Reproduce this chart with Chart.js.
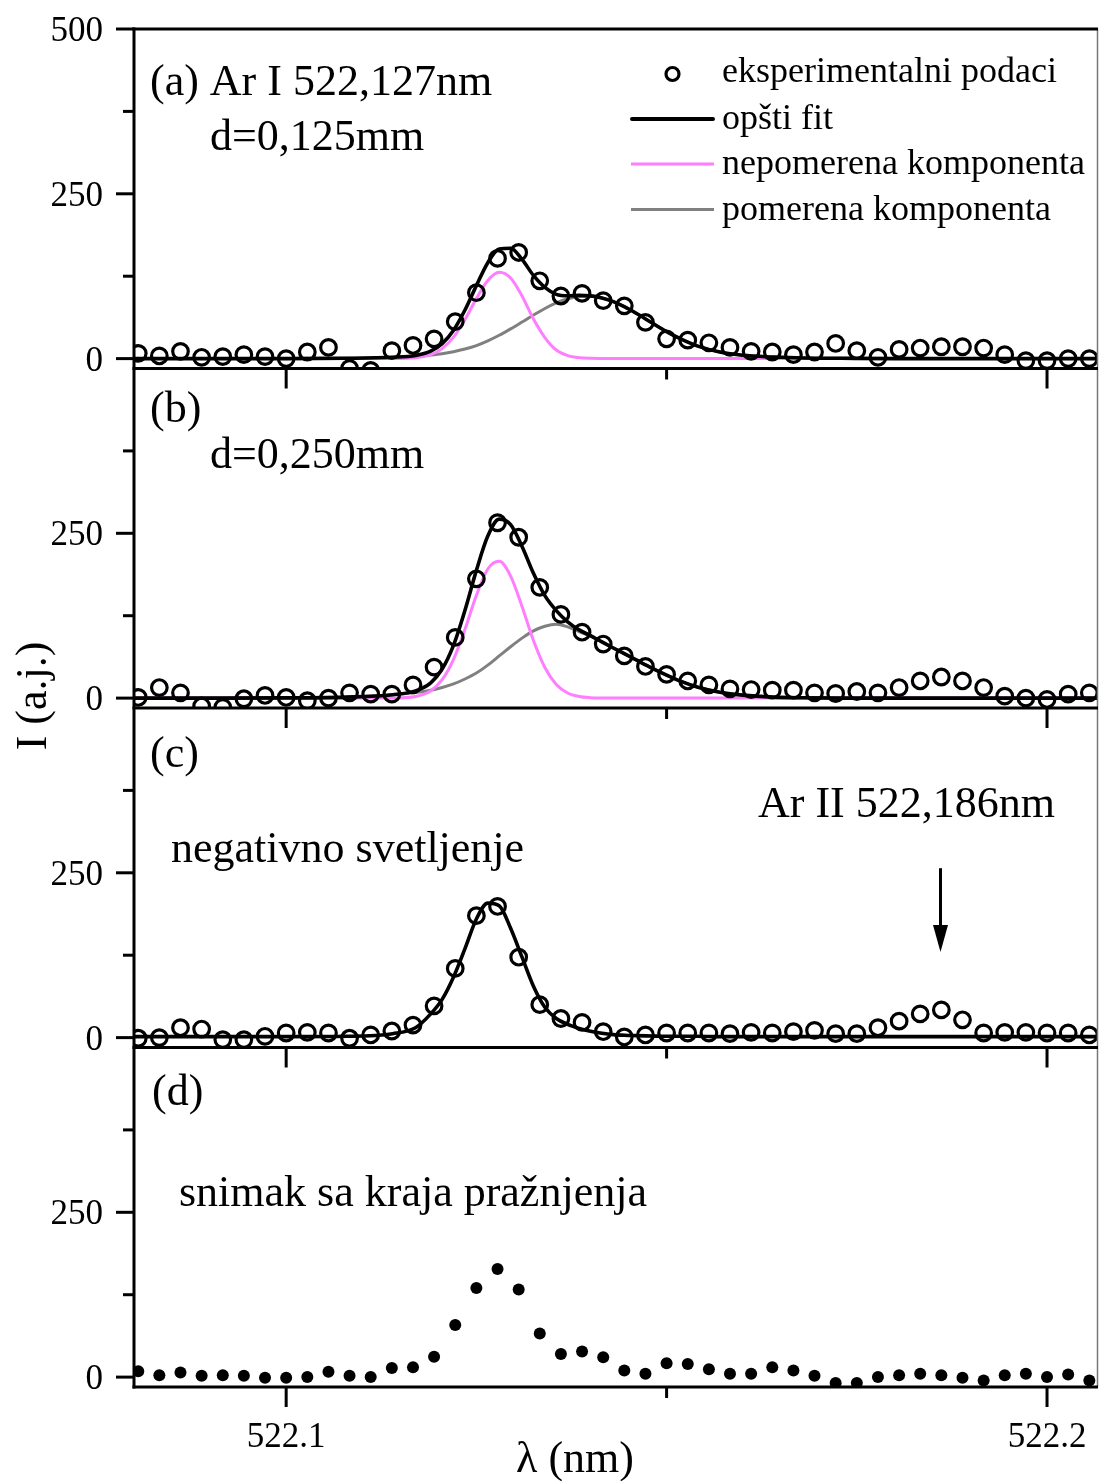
<!DOCTYPE html>
<html>
<head>
<meta charset="utf-8">
<title>Ar I 522,127nm</title>
<script src="https://cdn.jsdelivr.net/npm/chart.js@4.4.1/dist/chart.umd.min.js"></script>
<style>
  html, body { margin: 0; padding: 0; background: #fff; overflow: hidden; }
  #wrap { position: relative; width: 1099px; height: 1481px; }
  canvas { display: block; }
</style>
</head>
<body>
<div id="wrap"><canvas id="spectra" width="1099" height="1481"></canvas></div>
<script>
// measured points, wavelength in nm
const wavelength = [522.08056, 522.08333, 522.08611, 522.08889, 522.09167, 522.09444, 522.09722, 522.10000,
  522.10278, 522.10556, 522.10833, 522.11111, 522.11389, 522.11667, 522.11944, 522.12222, 522.12500, 522.12778,
  522.13056, 522.13333, 522.13611, 522.13889, 522.14167, 522.14444, 522.14722, 522.15000, 522.15278, 522.15556,
  522.15833, 522.16111, 522.16389, 522.16667, 522.16944, 522.17222, 522.17500, 522.17778, 522.18056, 522.18333,
  522.18611, 522.18889, 522.19167, 522.19444, 522.19722, 522.20000, 522.20278, 522.20556];

// (a) d=0,125mm
const expA = [8, 4, 11, 2, 3, 6, 3, 0, 10, 17, -15, -18, 12, 20, 30, 56, 100, 152, 161, 118, 95, 99, 88, 80,
  55, 30, 28, 24, 17, 11, 10, 6, 10, 23, 12, 2, 14, 16, 18, 18, 16, 6, -3, -3, 0, 0];
// (b) d=0,250mm
const expB = [1, 16, 8, -12, -14, -1, 4, 1, -4, 0, 8, 6, 6, 20, 47, 92, 181, 266, 244, 168, 127, 100, 82, 64,
  48, 36, 26, 20, 14, 13, 12, 12, 8, 7, 10, 8, 16, 26, 32, 26, 16, 3, 0, -2, 6, 8];
// (c) negativno svetljenje
const expC = [-1, 0, 15, 13, -3, -3, 2, 7, 8, 7, -1, 4, 10, 19, 48, 105, 185, 199, 122, 50, 29, 23, 9, 1,
  4, 7, 7, 7, 6, 8, 7, 9, 11, 6, 6, 15, 25, 36, 42, 27, 7, 8, 8, 7, 7, 4];
// (d) snimak sa kraja praznjenja
const expD = [9, 3, 7, 2, 3, 2, -1, -1, 0, 8, 2, 0, 14, 15, 31, 79, 135, 164, 133, 66, 35, 39, 30, 10,
  5, 21, 20, 12, 5, 5, 15, 10, 2, -9, -9, 0, 3, 5, 3, -1, -5, 3, 5, 0, 4, -5];

// fitted curves
const fitWavelength = [522.080, 522.090, 522.100, 522.108, 522.114, 522.117, 522.119, 522.1205, 522.122,
  522.1235, 522.125, 522.1265, 522.128, 522.1295, 522.131, 522.1325, 522.134, 522.1355, 522.137, 522.1385,
  522.140, 522.1415, 522.143, 522.1445, 522.146, 522.148, 522.150, 522.152, 522.154, 522.157, 522.160,
  522.164, 522.168, 522.173, 522.180, 522.190, 522.2067];

const fitA = [0, 0, 0, 0.5, 2.1, 4.8, 11.5, 22.7, 43.1, 73.7, 110.7, 145.5, 166.4, 167.5, 150.5, 126.1, 108,
  97.5, 95.3, 95.9, 95.2, 92.1, 86.4, 78.4, 68.8, 54.8, 41, 29, 19.3, 10, 5, 2.5, 1, 0.5, 0, 0, 0];
const unshiftedA = [0, 0, 0, 0, 0.1, 1.3, 6, 15.2, 32.6, 59.2, 91, 118.6, 131, 122.4, 95, 60, 32, 13, 4.5,
  1.5, 0.4, 0.1, 0, 0, 0, 0, 0, 0, 0, 0, 0, 0, 0, 0, 0, 0, 0];
const shiftedA = [0, 0, 0, 0.5, 2, 3.5, 5.5, 7.5, 10.5, 14.5, 19.7, 26.9, 35.4, 45.1, 55.5, 66.1, 76, 84.5,
  90.8, 94.4, 94.8, 92, 86.4, 78.4, 68.8, 54.8, 41, 29, 19.3, 10, 5, 2.5, 1, 0.5, 0, 0, 0];

const fitB = [0, 0, 0.3, 1.5, 5.2, 11, 23.2, 43.9, 80.3, 133.3, 193.8, 245.9, 271.5, 263.1, 230, 189.4, 155.5,
  132.8, 115.8, 103.5, 94.7, 85.2, 76, 67, 58, 46, 35, 25, 17, 9, 4.5, 1.5, 0.5, 0, 0, 0, 0];
const unshiftedB = [0, 0, 0, 0, 0.2, 2.5, 11.2, 27.9, 58.8, 104.3, 155.8, 195.9, 207.5, 185.1, 139, 87.4, 46.5,
  20.8, 7.8, 2.5, 0.7, 0.2, 0, 0, 0, 0, 0, 0, 0, 0, 0, 0, 0, 0, 0, 0, 0];
const shiftedB = [0, 0, 0.3, 1.5, 5, 8.5, 12, 16, 21.5, 29, 38, 50, 64, 78, 91, 102, 109, 112, 108, 101, 94,
  85, 76, 67, 58, 46, 35, 25, 17, 9, 4.5, 1.5, 0.5, 0, 0, 0, 0];

const fitC = [1.5, 1.5, 1.5, 2, 6, 15, 36, 58, 92, 135, 180, 204, 200, 166, 122, 78, 46, 29, 20, 14, 9.5, 6.5,
  4.5, 3.5, 3, 2.5, 2, 2, 2, 1.5, 1.5, 1.5, 1.5, 1.5, 1.5, 1.5, 1.5];

const yTicks = [0, 125, 250, 375, 500];
const xTicks = [522.1, 522.15, 522.2];
const xTickLabels = ['522.1', '', '522.2'];
const arrowAt = 522.186;

const panels = ['yA', 'yB', 'yC', 'yD'];
const FONT = '"Liberation Serif", "Times New Roman", serif';
const PINK = '#ff7dff';
const GRAY = '#808080';

const toPoints = (xs, ys) => xs.map((x, i) => ({ x: x, y: ys[i] }));

const circles = (values, axis) => ({
  data: toPoints(wavelength, values),
  yAxisID: axis,
  showLine: false,
  pointRadius: 7.8,
  pointBorderWidth: 3.2,
  pointBorderColor: '#000',
  pointBackgroundColor: 'rgba(0,0,0,0)'
});

const curve = (values, axis, color, width) => ({
  data: toPoints(fitWavelength, values),
  yAxisID: axis,
  showLine: true,
  borderColor: color,
  borderWidth: width,
  pointRadius: 0,
  cubicInterpolationMode: 'monotone',
  fill: false
});

const panelScale = () => ({
  type: 'linear', position: 'left', stack: 'panels', stackWeight: 1,
  min: -15, max: 500, display: false
});

function line(ctx, x1, y1, x2, y2) {
  ctx.beginPath();
  ctx.moveTo(x1, y1);
  ctx.lineTo(x2, y2);
  ctx.stroke();
}

function text(ctx, str, x, y, size, align) {
  ctx.font = size + 'px ' + FONT;
  ctx.textAlign = align || 'left';
  ctx.textBaseline = 'alphabetic';
  ctx.fillText(str, x, y);
}

const frame = {
  id: 'frame',
  afterDatasetsDraw(chart) {
    const ctx = chart.ctx;
    const area = chart.chartArea;
    const xs = chart.scales.x;
    ctx.save();
    ctx.strokeStyle = '#000';
    ctx.fillStyle = '#000';
    ctx.lineWidth = 3;

    // thin right border
    ctx.save();
    ctx.strokeStyle = '#777';
    ctx.lineWidth = 1.5;
    line(ctx, area.right - 0.5, area.top, area.right - 0.5, area.bottom);
    ctx.restore();

    line(ctx, area.left - 1.5, area.top, area.right, area.top);
    line(ctx, area.left, area.top - 1.5, area.left, area.bottom + 1.5);

    panels.forEach((id, p) => {
      const s = chart.scales[id];
      line(ctx, area.left - 1.5, s.bottom, area.right, s.bottom);
      xTicks.forEach((v, i) => {
        const px = xs.getPixelForValue(v);
        line(ctx, px, s.bottom, px, s.bottom + (xTickLabels[i] ? 20 : 11));
      });
      yTicks.forEach(v => {
        if (v === 500 && p > 0) return;
        const py = s.getPixelForValue(v);
        const major = v % 250 === 0;
        line(ctx, area.left - (major ? 18 : 11), py, area.left, py);
        if (major) text(ctx, String(v), 103, py + 12, 35, 'right');
      });
    });

    // x tick labels under the last panel
    const bottom = chart.scales.yD.bottom;
    xTicks.forEach((v, i) => {
      if (xTickLabels[i]) text(ctx, xTickLabels[i], xs.getPixelForValue(v), bottom + 60, 35, 'center');
    });

    // axis titles
    text(ctx, 'λ (nm)', 575, 1472, 44, 'center');
    ctx.save();
    ctx.translate(46, 696);
    ctx.rotate(-Math.PI / 2);
    text(ctx, 'I (a.j.)', 0, 0, 44, 'center');
    ctx.restore();

    // panel annotations
    text(ctx, '(a) Ar I 522,127nm', 150, 95, 44);
    text(ctx, 'd=0,125mm', 210, 150, 44);
    text(ctx, '(b)', 150, 422, 44);
    text(ctx, 'd=0,250mm', 210, 468, 44);
    text(ctx, '(c)', 150, 767, 44);
    text(ctx, 'negativno svetljenje', 171, 862, 44);
    text(ctx, '(d)', 152, 1105, 44);
    text(ctx, 'snimak sa kraja pražnjenja', 179, 1206, 44);
    text(ctx, 'Ar II 522,186nm', 758, 817, 44);

    // arrow to the Ar II line
    const ax = xs.getPixelForValue(arrowAt);
    const yc = chart.scales.yC;
    const aTop = yc.getPixelForValue(257);
    const aTip = yc.getPixelForValue(130);
    line(ctx, ax, aTop, ax, aTip - 20);
    ctx.beginPath();
    ctx.moveTo(ax - 7.5, aTip - 27);
    ctx.lineTo(ax + 7.5, aTip - 27);
    ctx.lineTo(ax, aTip);
    ctx.closePath();
    ctx.fill();

    // legend
    const rows = [74, 119, 164, 209.5];
    ctx.beginPath();
    ctx.lineWidth = 3.2;
    ctx.arc(672.5, rows[0], 6.5, 0, Math.PI * 2);
    ctx.stroke();
    ctx.lineCap = 'round';
    ctx.lineWidth = 4;
    line(ctx, 632, rows[1], 713, rows[1]);
    ctx.lineCap = 'butt';
    ctx.lineWidth = 3;
    ctx.strokeStyle = PINK;
    line(ctx, 631, rows[2], 714, rows[2]);
    ctx.strokeStyle = GRAY;
    line(ctx, 631, rows[3], 714, rows[3]);
    text(ctx, 'eksperimentalni podaci', 722, rows[0] + 8, 36);
    text(ctx, 'opšti fit', 722, rows[1] + 10, 36);
    text(ctx, 'nepomerena komponenta', 722, rows[2] + 10, 36);
    text(ctx, 'pomerena komponenta', 722, rows[3] + 10, 36);

    ctx.restore();
  }
};

new Chart(document.getElementById('spectra'), {
  type: 'scatter',
  data: {
    datasets: [
      circles(expA, 'yA'),
      circles(expB, 'yB'),
      circles(expC, 'yC'),
      {
        data: toPoints(wavelength, expD),
        yAxisID: 'yD',
        showLine: false,
        pointRadius: 6,
        pointBorderWidth: 0,
        pointBackgroundColor: '#000'
      },
      curve(fitA, 'yA', '#000', 3.6),
      curve(fitB, 'yB', '#000', 3.6),
      curve(fitC, 'yC', '#000', 3.6),
      curve(unshiftedA, 'yA', PINK, 3),
      curve(unshiftedB, 'yB', PINK, 3),
      curve(shiftedA, 'yA', GRAY, 3),
      curve(shiftedB, 'yB', GRAY, 3)
    ]
  },
  options: {
    responsive: false,
    animation: false,
    devicePixelRatio: 1,
    events: [],
    layout: { autoPadding: false, padding: { left: 134, right: 1, top: 29, bottom: 94 } },
    scales: {
      x: { type: 'linear', min: 522.08, max: 522.2067, display: false },
      // stacked from the bottom up: the last one sits on top
      yD: panelScale(),
      yC: panelScale(),
      yB: panelScale(),
      yA: panelScale()
    },
    plugins: {
      legend: { display: false },
      tooltip: { enabled: false }
    }
  },
  plugins: [frame]
});
</script>
</body>
</html>
